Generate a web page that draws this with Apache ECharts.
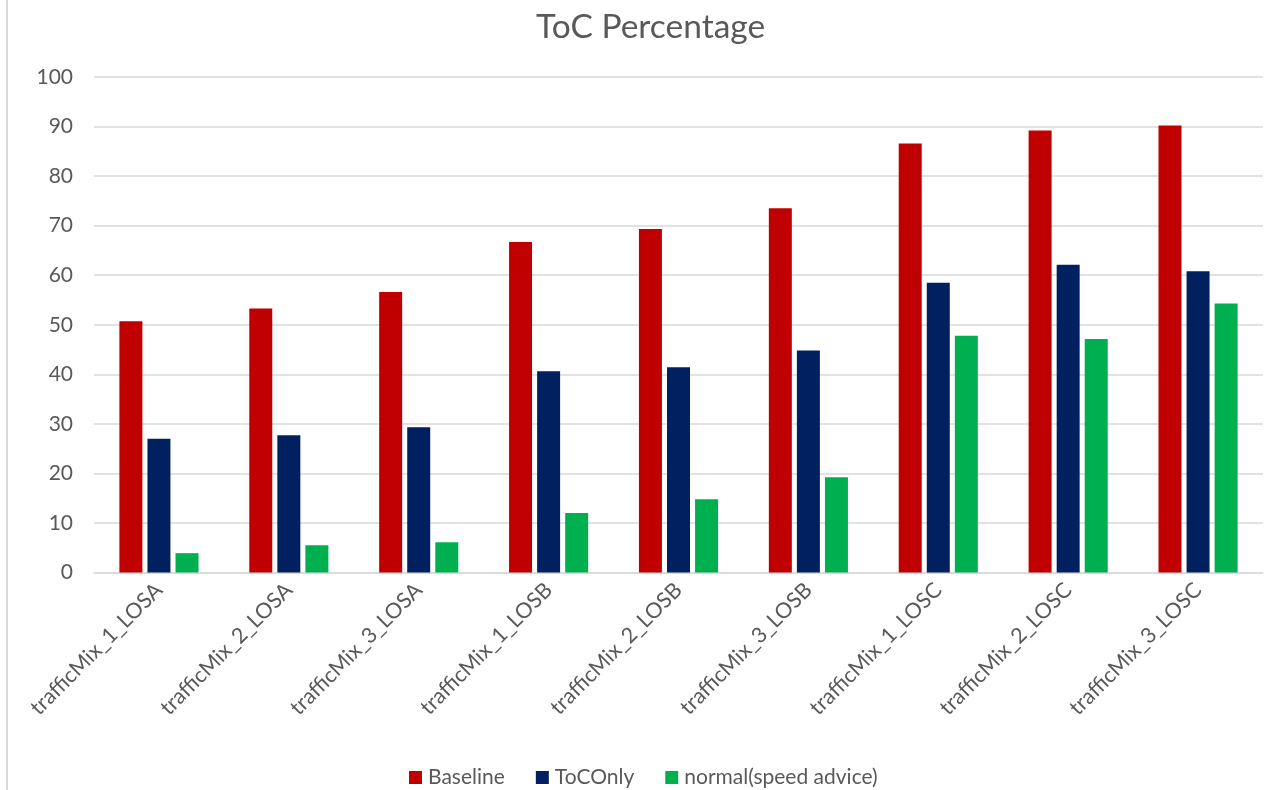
<!DOCTYPE html>
<html>
<head>
<meta charset="utf-8">
<script src="https://cdn.jsdelivr.net/npm/echarts@6/dist/echarts.min.js"></script>
<style>
  html, body { margin: 0; padding: 0; background: #ffffff; }
  #chart { width: 1273px; height: 790px; }
</style>
</head>
<body>
<div id="chart"></div>
<script>
// Scenario labels along the x axis
const categories = [
  'trafficMix_1_LOSA', 'trafficMix_2_LOSA', 'trafficMix_3_LOSA',
  'trafficMix_1_LOSB', 'trafficMix_2_LOSB', 'trafficMix_3_LOSB',
  'trafficMix_1_LOSC', 'trafficMix_2_LOSC', 'trafficMix_3_LOSC'
];

// ToC percentage per scenario
const baseline = [50.7, 53.3, 56.6, 66.7, 69.3, 73.5, 86.6, 89.2, 90.2];
const tocOnly = [27.0, 27.7, 29.3, 40.6, 41.4, 44.8, 58.5, 62.1, 60.8];
const speedAdvice = [3.9, 5.5, 6.1, 12.0, 14.8, 19.2, 47.8, 47.1, 54.3];

const seriesNames = ['Baseline', 'ToCOnly', 'normal(speed advice)'];
const seriesColors = ['#C00000', '#002060', '#00B050'];

const font = 'Lato, "Open Sans", sans-serif';
const textGray = '#595959';

const chart = echarts.init(document.getElementById('chart'));

function barSeries(name, data, color) {
  return {
    name: name,
    type: 'bar',
    data: data,
    barWidth: 23,
    barGap: '22%',
    itemStyle: { color: color },
    emphasis: { disabled: true },
    animation: false
  };
}

chart.setOption({
  backgroundColor: '#ffffff',
  animation: false,
  title: {
    text: 'ToC Percentage',
    left: 531,
    top: 5,
    textStyle: { fontFamily: font, fontSize: 33.5, fontWeight: 'normal', color: textGray }
  },
  legend: {
    data: seriesNames,
    bottom: -3,
    left: 404,
    itemWidth: 13,
    itemHeight: 13,
    itemGap: 31,
    icon: 'rect',
    textStyle: { fontFamily: font, fontSize: 21, color: textGray, padding: [0, 0, 0, 1] }
  },
  graphic: [{
    type: 'line',
    shape: { x1: 7, y1: 0, x2: 7, y2: 790 },
    style: { stroke: '#d9d9d9', lineWidth: 2 }
  }],
  grid: { left: 94, right: 10, top: 77, bottom: 217.5, containLabel: false },
  xAxis: {
    type: 'category',
    data: categories,
    axisLine: { show: true, lineStyle: { color: '#d9d9d9', width: 1.5 } },
    axisTick: { show: false },
    axisLabel: {
      rotate: 45,
      margin: 14,
      interval: 0,
      fontFamily: font,
      fontSize: 21.5,
      color: textGray
    }
  },
  yAxis: {
    type: 'value',
    min: 0,
    max: 100,
    interval: 10,
    axisLine: { show: false },
    axisTick: { show: false },
    axisLabel: { margin: 21, fontFamily: font, fontSize: 21, color: textGray },
    splitLine: { lineStyle: { color: '#d9d9d9', width: 1.5 } }
  },
  series: [
    barSeries(seriesNames[0], baseline, seriesColors[0]),
    barSeries(seriesNames[1], tocOnly, seriesColors[1]),
    barSeries(seriesNames[2], speedAdvice, seriesColors[2])
  ]
});
</script>
</body>
</html>
